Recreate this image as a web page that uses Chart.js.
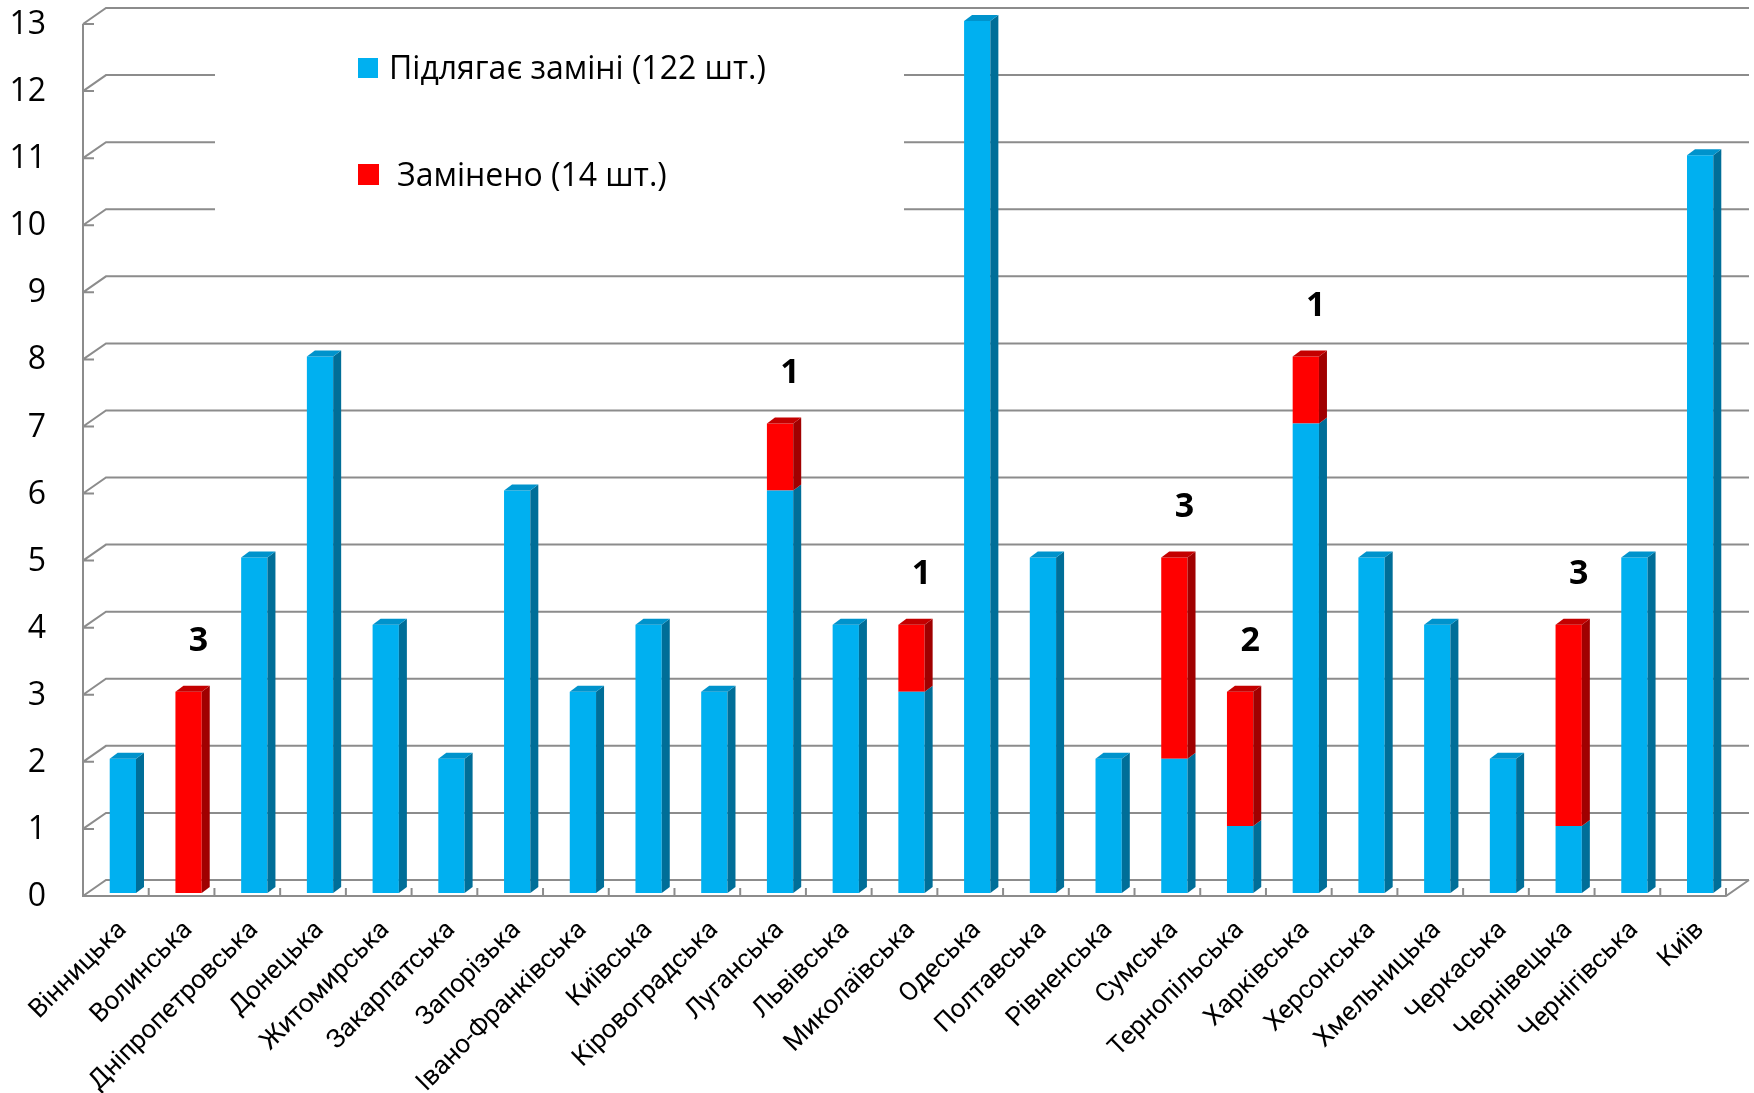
<!DOCTYPE html>
<html>
<head>
<meta charset="utf-8">
<script src="https://cdn.jsdelivr.net/npm/chart.js@4.4.0/dist/chart.umd.min.js"></script>
<style>
    html, body { margin: 0; padding: 0; background: #fff; }
    #wrap { width: 1754px; height: 1093px; }
</style>
</head>
<body>
<div id="wrap"><canvas id="chart" width="1754" height="1093"></canvas></div>
<script>
// Області
const regions = ['Вінницька', 'Волинська', 'Дніпропетровська', 'Донецька', 'Житомирська',
    'Закарпатська', 'Запорізька', 'Івано-Франківська', 'Київська', 'Кіровоградська',
    'Луганська', 'Львівська', 'Миколаївська', 'Одеська', 'Полтавська', 'Рівненська',
    'Сумська', 'Тернопільська', 'Харківська', 'Херсонська', 'Хмельницька', 'Черкаська',
    'Чернівецька', 'Чернігівська', 'Київ'];
// Підлягає заміні
const toReplace = [2, 0, 5, 8, 4, 2, 6, 3, 4, 3, 6, 4, 3, 13, 5, 2, 2, 1, 7, 5, 4, 2, 1, 5, 11];
// Замінено
const replaced = [0, 3, 0, 0, 0, 0, 0, 0, 0, 0, 1, 0, 1, 0, 0, 0, 3, 2, 1, 0, 0, 0, 3, 0, 0];
const seriesNames = ['Підлягає заміні (122 шт.)', 'Замінено (14 шт.)'];
const yMin = 0, yMax = 13, yStep = 1;

const FONT = '"Open Sans", "DejaVu Sans", sans-serif';
const LABEL_FONT = 'Roboto, "Open Sans", sans-serif';

// зсуви для псевдо-3D
const frontDx = -7, frontDy = 3, backDx = 16, backDy = -13;
const depthX = 8, depthY = 6;

const faces = [
    { top: '#0093CC', side: '#006E98' },
    { top: '#C40000', side: '#A00000' }
];

// Сітка, осі і легенда
const frame3d = {
    id: 'frame3d',
    beforeDatasetsDraw(chart) {
        const { ctx, chartArea: a, scales: { x, y } } = chart;
        const fl = a.left + frontDx, fr = a.right + frontDx;
        const bl = a.left + backDx, br = a.right + backDx;
        ctx.save();
        ctx.strokeStyle = '#8c8c8c';
        ctx.lineWidth = 2;
        y.ticks.forEach(t => {
            const py = y.getPixelForValue(t.value);
            const fy = py + frontDy, by = py + backDy;
            ctx.beginPath();
            ctx.moveTo(fl, fy); ctx.lineTo(bl, by); ctx.lineTo(br, by);
            ctx.moveTo(fl, fy); ctx.lineTo(fl + 11, fy);
            ctx.stroke();
        });
        // вертикальна вісь
        const fTop = y.getPixelForValue(yMax) + frontDy;
        const fb = y.getPixelForValue(0) + frontDy, bb = y.getPixelForValue(0) + backDy;
        ctx.beginPath();
        ctx.moveTo(fl, fTop); ctx.lineTo(fl, fb);
        ctx.lineTo(fr, fb); ctx.lineTo(br, bb);
        ctx.stroke();
        // поділки категорій
        const step = (a.right - a.left) / regions.length;
        ctx.beginPath();
        for (let i = 1; i <= regions.length; i++) {
            const xx = fl + i * step;
            ctx.moveTo(xx, fb); ctx.lineTo(xx, fb - 8);
        }
        ctx.stroke();

        // легенда
        ctx.fillStyle = '#fff';
        ctx.fillRect(215, 32, 689, 200);
        const ds = chart.data.datasets;
        ctx.font = '32px ' + FONT;
        ctx.textBaseline = 'alphabetic';
        ctx.textAlign = 'left';
        ctx.fillStyle = ds[0].backgroundColor;
        ctx.fillRect(358, 58, 20, 20);
        ctx.fillStyle = '#000';
        ctx.fillText(ds[0].label, 389, 79);
        ctx.fillStyle = ds[1].backgroundColor;
        ctx.fillRect(358, 164, 21, 21);
        ctx.fillStyle = '#000';
        ctx.fillText(ds[1].label, 397, 186);
        ctx.restore();
    },
    afterDatasetsDraw(chart) {
        const { ctx } = chart;
        const metas = chart.data.datasets.map((d, i) => chart.getDatasetMeta(i));
        ctx.save();
        regions.forEach((r, i) => {
            let topIdx = -1;
            metas.forEach((m, d) => {
                const v = chart.data.datasets[d].data[i];
                if (!v) return;
                const bar = m.data[i];
                const right = bar.x + bar.width / 2;
                const top = bar.y, bottom = bar.base;
                ctx.fillStyle = faces[d].side;
                ctx.beginPath();
                ctx.moveTo(right, bottom); ctx.lineTo(right, top);
                ctx.lineTo(right + depthX, top - depthY); ctx.lineTo(right + depthX, bottom - depthY);
                ctx.closePath(); ctx.fill();
                topIdx = d;
            });
            if (topIdx < 0) return;
            const bar = metas[topIdx].data[i];
            const left = bar.x - bar.width / 2, right = bar.x + bar.width / 2;
            ctx.fillStyle = faces[topIdx].top;
            ctx.beginPath();
            ctx.moveTo(left, bar.y); ctx.lineTo(left + depthX, bar.y - depthY);
            ctx.lineTo(right + depthX, bar.y - depthY); ctx.lineTo(right, bar.y);
            ctx.closePath(); ctx.fill();
            // підпис замінених
            if (replaced[i] > 0) {
                ctx.fillStyle = '#000';
                ctx.font = 'bold 34px ' + FONT;
                ctx.textAlign = 'center';
                ctx.textBaseline = 'middle';
                ctx.fillText(String(replaced[i]), bar.x + 10, bar.y - 50);
            }
        });
        ctx.restore();
    }
};

const ctx = document.getElementById('chart').getContext('2d');
const chart = new Chart(ctx, {
    type: 'bar',
    data: {
        labels: regions,
        datasets: [{
            label: seriesNames[0],
            data: toReplace,
            backgroundColor: '#00B0F0',
            barPercentage: 0.4,
            categoryPercentage: 1
        }, {
            label: seriesNames[1],
            data: replaced,
            backgroundColor: '#FF0000',
            barPercentage: 0.4,
            categoryPercentage: 1
        }]
    },
    options: {
        responsive: false,
        devicePixelRatio: 1,
        animation: false,
        layout: { padding: { left: 0, top: 21, right: 21, bottom: 0 } },
        plugins: {
            legend: { display: false },
            tooltip: { enabled: false }
        },
        scales: {
            x: {
                stacked: true,
                grid: { display: false },
                border: { display: false },
                ticks: {
                    autoSkip: false,
                    maxRotation: 45,
                    minRotation: 45,
                    padding: 14,
                    color: '#000',
                    font: { family: LABEL_FONT, size: 26 }
                },
                afterFit(scale) {
                    scale.height = 200;
                    scale.paddingLeft = 0;
                    scale.paddingRight = 0;
                }
            },
            y: {
                stacked: true,
                min: yMin,
                max: yMax,
                grid: { display: false, drawTicks: false },
                border: { display: false },
                ticks: {
                    stepSize: yStep,
                    padding: 44,
                    labelOffset: 4,
                    color: '#000',
                    font: { family: FONT, size: 32 }
                },
                afterFit(scale) {
                    scale.width = 90;
                    scale.paddingTop = 0;
                    scale.paddingBottom = 0;
                }
            }
        }
    },
    plugins: [frame3d]
});
</script>
</body>
</html>
